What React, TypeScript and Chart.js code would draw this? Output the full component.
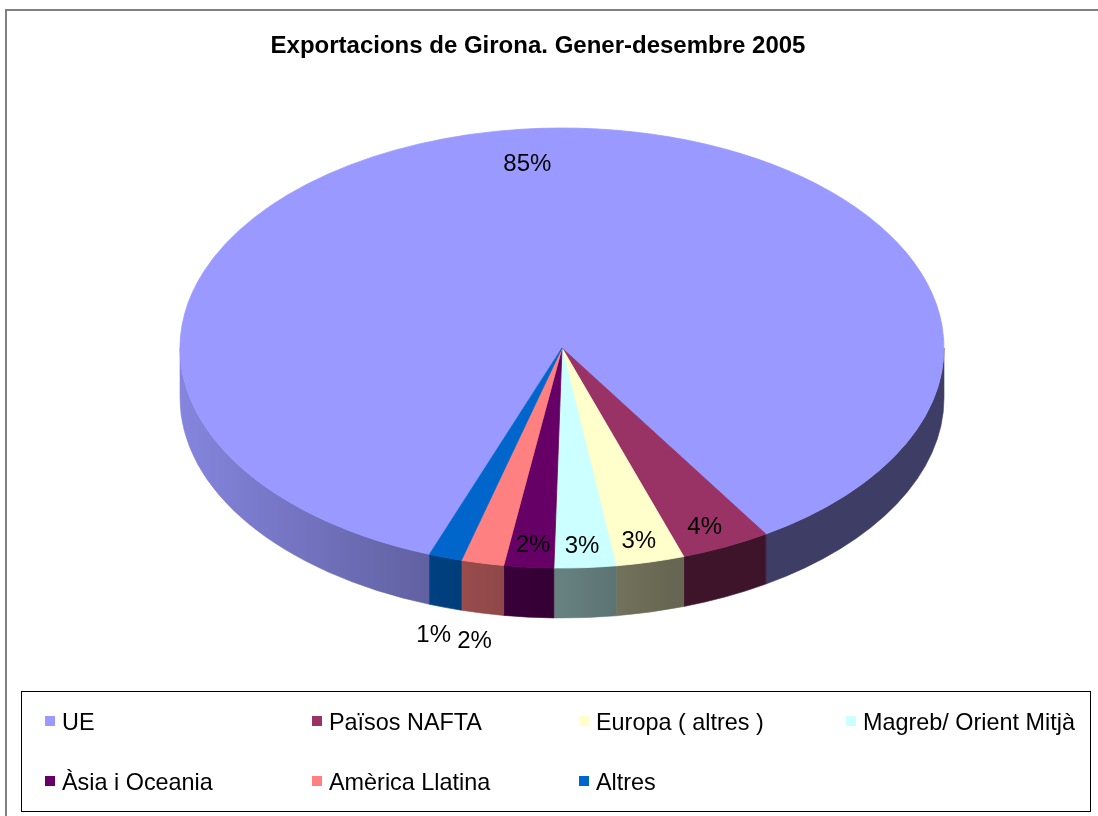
import React, { useEffect, useRef } from "react";
import { Chart, registerables } from "chart.js";

Chart.register(...registerables);

const TITLE = "Exportacions de Girona. Gener-desembre 2005";
const CATEGORIES = [
  "UE",
  "Països NAFTA",
  "Europa ( altres )",
  "Magreb/ Orient Mitjà",
  "Àsia i Oceania",
  "Amèrica Llatina",
  "Altres",
];
const SHARES = [85.4, 3.8, 2.9, 2.6, 2.1, 1.8, 1.4];
const COLORS = ["#9999FF", "#993366", "#FFFFCC", "#CCFFFF", "#660066", "#FF8080", "#0066CC"];
const START_ANGLE = 200.3;

const FONT = "'Liberation Sans', Arial, sans-serif";
const TILT = 220 / 382;
const DEPTH = 50;
const LABEL_DROP = 7;
const TAU = Math.PI * 2;

function shade(hex: string, f: number) {
  const n = parseInt(hex.slice(1), 16);
  const r = (n >> 16) & 255;
  const g = (n >> 8) & 255;
  const b = n & 255;
  return `rgb(${Math.round(r * f)},${Math.round(g * f)},${Math.round(b * f)})`;
}

const pie3d = {
  id: "pie3d",
  beforeDatasetsDraw(chart: any) {
    const meta = chart.getDatasetMeta(0);
    const arcs = meta.data;
    const ctx = chart.ctx as CanvasRenderingContext2D;
    if (!arcs.length) return;
    const { x: cx, y: cy, outerRadius: R } = arcs[0].getProps(["x", "y", "outerRadius"], true);
    const ry = R * TILT;
    const colors = chart.data.datasets[0].backgroundColor as string[];
    ctx.save();
    arcs.forEach((arc: any, i: number) => {
      const { startAngle, endAngle } = arc.getProps(["startAngle", "endAngle"], true);
      const span = endAngle - startAngle;
      const s = ((startAngle % TAU) + TAU) % TAU;
      for (const off of [0, TAU]) {
        const a0 = Math.max(s, off);
        const a1 = Math.min(s + span, off + Math.PI);
        if (a1 <= a0) continue;
        const grad = ctx.createLinearGradient(cx - R, 0, cx + R, 0);
        grad.addColorStop(0, shade(colors[i], 0.87));
        grad.addColorStop(0.64, shade(colors[i], 0.4));
        grad.addColorStop(1, shade(colors[i], 0.4));
        ctx.beginPath();
        ctx.ellipse(cx, cy, R, ry, 0, a0, a1, false);
        ctx.ellipse(cx, cy + DEPTH, R, ry, 0, a1, a0, true);
        ctx.closePath();
        ctx.fillStyle = grad;
        ctx.fill();
        ctx.strokeStyle = grad;
        ctx.lineWidth = 0.6;
        ctx.stroke();
      }
    });
    ctx.restore();
    ctx.save();
    ctx.translate(cx, cy);
    ctx.scale(1, TILT);
    ctx.translate(-cx, -cy);
  },
  afterDatasetsDraw(chart: any) {
    const ctx = chart.ctx as CanvasRenderingContext2D;
    ctx.restore();
    const meta = chart.getDatasetMeta(0);
    const arcs = meta.data;
    if (!arcs.length) return;
    const values = chart.data.datasets[0].data as number[];
    const total = values.reduce((a, b) => a + b, 0);
    ctx.save();
    ctx.font = `24px ${FONT}`;
    ctx.fillStyle = "#000";
    ctx.textAlign = "center";
    ctx.textBaseline = "middle";
    arcs.forEach((arc: any, i: number) => {
      const { x: cx, y: cy, outerRadius: R, startAngle, endAngle } = arc.getProps(
        ["x", "y", "outerRadius", "startAngle", "endAngle"],
        true
      );
      const share = (values[i] / total) * 100;
      const mid = (startAngle + endAngle) / 2;
      const outside = share < 2;
      const rf = outside ? 1.1 : 0.87;
      const x = cx + rf * R * Math.cos(mid);
      const y = cy + rf * R * TILT * Math.sin(mid) + LABEL_DROP + (outside ? DEPTH : 0);
      ctx.fillText(`${Math.round(share)}%`, x, y);
    });
    ctx.restore();
  },
};

export default function App() {
  const ref = useRef<HTMLCanvasElement | null>(null);

  useEffect(() => {
    if (!ref.current) return;
    const chart = new Chart(ref.current, {
      type: "pie",
      data: {
        labels: CATEGORIES,
        datasets: [
          {
            data: SHARES,
            backgroundColor: COLORS,
            borderColor: COLORS,
            borderWidth: 1,
            radius: 382,
          } as any,
        ],
      },
      options: {
        responsive: false,
        animation: false,
        rotation: START_ANGLE,
        events: [],
        layout: { padding: { left: 26, right: 0, top: 0, bottom: 120 } },
        plugins: {
          legend: { display: false },
          tooltip: { enabled: false },
          title: { display: false },
        },
      } as any,
      plugins: [pie3d],
    });
    return () => chart.destroy();
  }, []);

  const colLeft = [23, 290, 557, 824];

  return (
    <div
      style={{
        position: "fixed",
        left: 0,
        top: 0,
        width: 1098,
        height: 816,
        overflow: "hidden",
        background: "#fff",
        fontFamily: FONT,
      }}
    >
      <div
        style={{
          position: "absolute",
          left: 5,
          top: 9,
          width: 1200,
          height: 900,
          border: "2px solid #808080",
        }}
      />
      <canvas
        ref={ref}
        width={1098}
        height={816}
        style={{ position: "absolute", left: 0, top: 0, width: 1098, height: 816 }}
      />
      <div
        style={{
          position: "absolute",
          left: 0,
          width: 1076,
          top: 31,
          lineHeight: "28px",
          textAlign: "center",
          fontWeight: "bold",
          fontSize: 24,
          color: "#000",
        }}
      >
        {TITLE}
      </div>
      <div
        style={{
          position: "absolute",
          left: 21,
          top: 691,
          width: 1068,
          height: 119,
          border: "1px solid #000",
        }}
      >
        {CATEGORIES.map((c, i) => {
          const row = Math.floor(i / 4);
          const col = i % 4;
          return (
            <div
              key={c}
              style={{
                position: "absolute",
                left: colLeft[col],
                top: 30 + row * 60 - 14,
                height: 28,
                display: "flex",
                alignItems: "center",
                whiteSpace: "nowrap",
              }}
            >
              <span
                style={{
                  display: "inline-block",
                  width: 10,
                  height: 10,
                  background: COLORS[i],
                  marginRight: 7,
                  marginTop: -2,
                }}
              />
              <span style={{ fontSize: 23.4, lineHeight: "28px", color: "#000" }}>{c}</span>
            </div>
          );
        })}
      </div>
    </div>
  );
}
